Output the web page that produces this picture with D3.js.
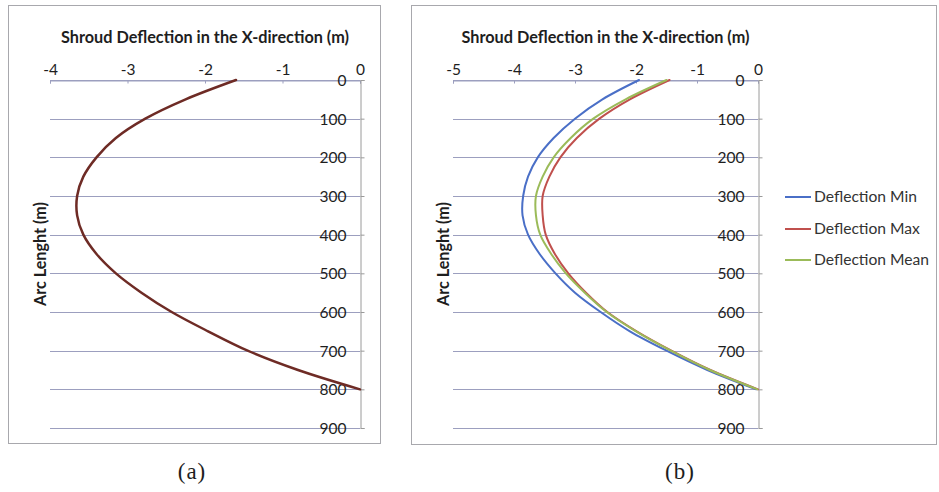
<!DOCTYPE html>
<html>
<head>
<meta charset="utf-8">
<script src="https://cdn.jsdelivr.net/npm/d3@7"></script>
<style>
  html, body { margin: 0; padding: 0; background: #fff; }
  svg { display: block; }
</style>
</head>
<body>
<svg id="chart" width="939" height="492"></svg>
<script>
// ---- data ----
const arcLength = [0, 50, 100, 150, 200, 250, 300, 350, 400, 450, 500, 550, 600, 650, 700, 750, 800];
const deflectionA = [-1.6, -2.25, -2.77, -3.15, -3.40, -3.57, -3.65, -3.65, -3.57, -3.40, -3.15, -2.82, -2.43, -1.96, -1.45, -0.80, 0];
const deflectionMin = [-1.95, -2.55, -3.0, -3.35, -3.61, -3.77, -3.85, -3.86, -3.77, -3.58, -3.32, -3.0, -2.58, -2.1, -1.5, -0.83, -0.03];
const deflectionMax = [-1.45, -2.1, -2.6, -2.97, -3.24, -3.42, -3.53, -3.53, -3.48, -3.33, -3.11, -2.82, -2.47, -1.99, -1.42, -0.78, 0];
const deflectionMean = [-1.5, -2.17, -2.7, -3.07, -3.35, -3.53, -3.64, -3.64, -3.57, -3.39, -3.15, -2.84, -2.48, -2.0, -1.43, -0.79, -0.01];
const xTicksA = [-4, -3, -2, -1, 0];
const xTicksB = [-5, -4, -3, -2, -1, 0];
const yTicks = [0, 100, 200, 300, 400, 500, 600, 700, 800, 900];
const seriesNames = ["Deflection Min", "Deflection Max", "Deflection Mean"];
const seriesColors = ["#4a6fc7", "#c0504d", "#9bbb59"];
const titleText = "Shroud Deflection in the X-direction (m)";
const yLabelText = "Arc Lenght (m)";

const svg = d3.select("#chart");
const FONT = "Lato, 'Open Sans', sans-serif";
const TEXT = "#1e1e1e";

// scale a text's font-size so it spans the given width
function fitWidth(sel, target) {
  const fs = parseFloat(sel.attr("font-size"));
  const w = sel.node().getComputedTextLength();
  if (w > 0) sel.attr("font-size", (fs * target / w).toFixed(2));
  return sel;
}

function panel(opts) {
  const g = svg.append("g");
  g.append("rect")
    .attr("x", opts.frame[0] + 0.5).attr("y", opts.frame[1] + 0.5)
    .attr("width", opts.frame[2] - opts.frame[0]).attr("height", opts.frame[3] - opts.frame[1])
    .attr("fill", "#fff").attr("stroke", "#a8a8ad").attr("stroke-width", 1);

  const x = d3.scaleLinear().domain([opts.xTicks[0], 0]).range([opts.x0, opts.x1]);
  const y = d3.scaleLinear().domain([0, 900]).range([80, 428]);

  g.append("g").selectAll("line").data(yTicks).join("line")
    .attr("x1", opts.x0).attr("x2", opts.x1)
    .attr("y1", d => Math.round(y(d)) + 0.5).attr("y2", d => Math.round(y(d)) + 0.5)
    .attr("stroke", "#9c9fbf").attr("stroke-width", 1);

  const xAxis = d3.axisTop(x).tickValues(opts.xTicks).tickSize(-3).tickPadding(7)
    .tickFormat(d3.format("d"));
  const gx = g.append("g").attr("transform", "translate(0,80.5)").call(xAxis);
  gx.select(".domain").attr("stroke", "#9c9fbf");
  gx.selectAll(".tick line").attr("stroke", "#9c9fbf");
  gx.selectAll("text").attr("font-family", FONT).attr("font-size", 15.5).attr("fill", TEXT)
    .attr("dy", "0em").attr("y", -6)
    .text(d => d < 0 ? "-" + Math.abs(d) : d);

  const yAxis = d3.axisRight(y).tickValues(yTicks).tickSize(4).tickFormat(d3.format("d"));
  const gy = g.append("g").attr("transform", `translate(${opts.x1 + 0.5},0)`).call(yAxis);
  gy.select(".domain").attr("stroke", "#9a9a9a");
  gy.selectAll(".tick line").attr("stroke", "#9a9a9a");
  gy.selectAll("text").attr("font-family", FONT).attr("font-size", 15.5).attr("fill", TEXT)
    .attr("text-anchor", "end").attr("x", -14).attr("dy", "0.36em");

  const t = g.append("text").attr("x", (opts.x0 + opts.x1) / 2).attr("y", 43)
    .attr("text-anchor", "middle").attr("font-family", FONT).attr("font-weight", "bold")
    .attr("font-size", 16).attr("fill", TEXT).text(titleText);
  fitWidth(t, 288);

  const yl = g.append("text").attr("transform", `translate(${opts.yLabelX},254) rotate(-90)`)
    .attr("text-anchor", "middle").attr("font-family", FONT).attr("font-weight", "bold")
    .attr("font-size", 15).attr("fill", TEXT).text(yLabelText);
  fitWidth(yl, 104);

  const line = d3.line().x(d => x(d[0])).y(d => y(d[1])).curve(d3.curveCatmullRom.alpha(0.5));
  opts.series.forEach(s => {
    g.append("path").datum(s.values.map((v, i) => [v, arcLength[i]]))
      .attr("d", line).attr("fill", "none").attr("stroke", s.color)
      .attr("stroke-width", s.width || 2).attr("stroke-linecap", "round");
  });

  svg.append("text").attr("x", opts.captionX).attr("y", 479).attr("text-anchor", "middle")
    .attr("font-family", "'Liberation Serif', 'DejaVu Serif', serif").attr("font-size", 23)
    .attr("fill", TEXT).attr("letter-spacing", 1).text(opts.caption);
  return { x, y };
}

panel({
  frame: [8, 5, 380, 443], x0: 50, x1: 360, xTicks: xTicksA, yLabelX: 46,
  series: [{ values: deflectionA, color: "#6e2b25", width: 2.5 }],
  caption: "(a)", captionX: 192
});

panel({
  frame: [411, 5, 936, 444], x0: 453, x1: 758, xTicks: xTicksB, yLabelX: 449,
  series: [
    { values: deflectionMin, color: seriesColors[0] },
    { values: deflectionMax, color: seriesColors[1] },
    { values: deflectionMean, color: seriesColors[2] }
  ],
  caption: "(b)", captionX: 680
});

const legend = svg.append("g");
const legY = [197, 229, 260];
let legendFont = null;
seriesNames.forEach((name, i) => {
  legend.append("line").attr("x1", 785).attr("x2", 811).attr("y1", legY[i]).attr("y2", legY[i])
    .attr("stroke", seriesColors[i]).attr("stroke-width", 2);
  const tx = legend.append("text").attr("x", 814).attr("y", legY[i]).attr("dy", "0.35em")
    .attr("font-family", FONT).attr("font-size", legendFont || 16).attr("fill", "#333").text(name);
  if (i === 0) { fitWidth(tx, 103); legendFont = tx.attr("font-size"); }
});
</script>
</body>
</html>
